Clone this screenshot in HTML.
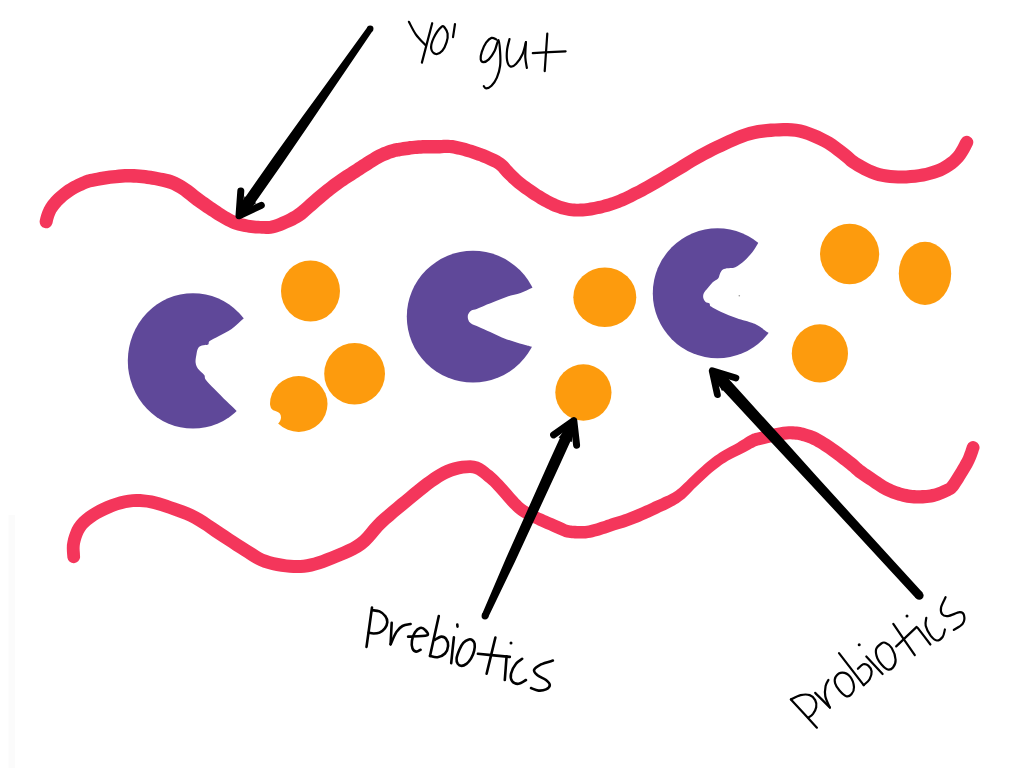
<!DOCTYPE html>
<html><head><meta charset="utf-8"><title>Gut diagram</title>
<style>
html,body{margin:0;padding:0;background:#fff;}
body{width:1024px;height:768px;overflow:hidden;font-family:"Liberation Sans",sans-serif;}
svg{display:block;filter:blur(0.55px);}
</style></head><body>
<svg width="1024" height="768" viewBox="0 0 1024 768">
<rect x="-5" y="-5" width="1034" height="778" fill="#fff"/>
<rect x="8.5" y="515" width="6.5" height="260" fill="#fbfbfb"/>
<path d="M52.3 223.8 L52.5 223.1 L52.7 222.2 L52.9 221.2 L53.2 220.1 L53.5 219.1 L53.8 218.1 L54.1 217.1 L54.5 216.0 L54.9 215.0 L55.3 214.1 L55.7 213.2 L56.1 212.3 L56.7 211.4 L57.4 210.5 L58.1 209.5 L58.9 208.4 L59.7 207.4 L60.6 206.4 L61.6 205.3 L62.7 204.3 L63.7 203.2 L64.9 202.2 L66.1 201.1 L67.3 200.1 L68.6 199.0 L70.0 198.0 L71.4 197.0 L72.8 196.0 L74.3 195.0 L75.9 194.1 L77.6 193.1 L79.6 192.1 L81.6 191.1 L83.6 190.2 L85.5 189.3 L87.2 188.6 L88.6 188.1 L89.4 187.7 L90.1 187.5 L90.9 187.3 L92.1 187.0 L93.8 186.7 L96.1 186.2 L98.8 185.7 L101.8 185.2 L104.8 184.7 L107.9 184.2 L110.8 183.8 L113.7 183.5 L116.7 183.2 L119.6 182.9 L122.5 182.7 L125.3 182.6 L128.1 182.5 L130.8 182.6 L133.5 182.7 L136.3 182.8 L139.0 183.0 L141.6 183.3 L144.2 183.6 L146.7 183.9 L149.2 184.3 L151.6 184.7 L154.0 185.1 L156.3 185.6 L158.6 186.1 L160.9 186.6 L162.9 187.0 L164.8 187.4 L166.6 187.9 L168.2 188.4 L169.9 189.0 L171.7 189.8 L173.5 190.7 L175.3 191.7 L177.2 192.8 L179.2 194.1 L181.1 195.3 L182.9 196.7 L184.8 198.2 L186.8 199.8 L188.9 201.5 L191.1 203.3 L193.3 205.0 L195.5 206.6 L197.6 208.1 L199.8 209.6 L201.9 211.0 L204.0 212.4 L206.1 213.8 L208.2 215.2 L210.4 216.6 L212.5 218.0 L214.7 219.4 L216.9 220.7 L219.1 222.0 L221.2 223.3 L223.4 224.5 L225.6 225.7 L227.9 226.8 L230.2 227.9 L232.6 228.9 L235.0 229.7 L237.4 230.4 L239.7 231.0 L241.9 231.5 L244.2 232.0 L246.4 232.3 L248.6 232.7 L250.9 233.0 L253.1 233.2 L255.4 233.4 L257.6 233.5 L259.7 233.5 L261.7 233.7 L263.8 233.8 L266.0 233.9 L268.5 233.9 L271.1 233.7 L273.9 233.2 L276.8 232.4 L279.8 231.5 L282.8 230.4 L285.6 229.2 L288.3 228.1 L290.8 227.0 L293.1 226.0 L295.3 224.9 L297.3 223.8 L299.2 222.7 L300.9 221.7 L302.5 220.7 L303.9 219.8 L305.1 218.9 L306.1 218.0 L307.1 217.2 L308.1 216.3 L309.5 215.1 L311.2 213.6 L313.2 211.8 L315.4 209.9 L317.6 207.9 L319.8 206.0 L321.9 204.2 L324.0 202.4 L326.0 200.7 L328.1 199.0 L330.1 197.3 L332.1 195.7 L334.2 194.1 L336.2 192.6 L338.2 191.0 L340.3 189.5 L342.3 188.1 L344.3 186.6 L346.4 185.2 L348.4 183.8 L350.4 182.5 L352.4 181.2 L354.5 179.9 L356.6 178.6 L358.7 177.2 L360.8 175.8 L362.9 174.5 L365.0 173.1 L367.0 171.8 L369.1 170.4 L371.1 169.2 L373.2 167.8 L375.3 166.5 L377.3 165.2 L379.3 164.0 L381.2 163.0 L383.0 162.0 L385.0 161.1 L387.0 160.2 L389.0 159.4 L391.0 158.6 L392.9 157.9 L394.6 157.4 L395.8 157.0 L396.7 156.8 L397.4 156.7 L398.3 156.5 L399.5 156.4 L401.1 156.1 L402.9 155.8 L404.8 155.5 L406.9 155.2 L409.1 154.9 L411.2 154.6 L413.2 154.3 L415.2 154.1 L417.2 153.9 L419.2 153.8 L421.2 153.7 L423.2 153.6 L425.2 153.5 L427.2 153.4 L429.2 153.4 L431.2 153.4 L433.3 153.4 L435.4 153.4 L437.6 153.4 L439.8 153.4 L442.0 153.3 L444.1 153.1 L446.0 153.1 L447.8 153.0 L449.5 153.1 L451.2 153.3 L453.0 153.6 L454.9 153.9 L456.9 154.4 L458.9 154.8 L460.9 155.3 L462.8 155.8 L464.8 156.4 L466.8 157.0 L468.8 157.6 L470.8 158.3 L472.9 159.0 L474.9 159.7 L476.9 160.4 L479.0 161.1 L480.9 161.9 L482.9 162.7 L484.9 163.5 L486.9 164.4 L489.0 165.4 L491.1 166.4 L493.0 167.3 L494.7 168.3 L496.1 169.3 L497.3 170.2 L498.4 171.3 L499.6 172.7 L500.9 174.2 L502.4 175.9 L504.1 177.7 L505.7 179.3 L507.3 180.8 L508.9 182.4 L510.7 184.1 L512.6 185.8 L514.6 187.5 L516.9 189.3 L519.2 191.1 L521.7 192.9 L524.1 194.6 L526.6 196.3 L528.9 197.9 L531.1 199.4 L533.3 200.8 L535.4 202.1 L537.5 203.4 L539.7 204.7 L541.9 205.9 L544.0 207.1 L546.2 208.2 L548.4 209.3 L550.6 210.4 L552.9 211.4 L555.2 212.3 L557.5 213.1 L559.8 213.9 L562.1 214.5 L564.4 215.1 L566.7 215.6 L569.1 216.0 L571.4 216.3 L573.8 216.5 L576.1 216.6 L578.4 216.6 L580.6 216.5 L582.9 216.4 L585.2 216.3 L587.4 216.0 L589.7 215.7 L591.9 215.4 L594.1 215.0 L596.2 214.6 L598.4 214.1 L600.6 213.7 L602.7 213.2 L604.9 212.6 L607.1 212.0 L609.3 211.4 L611.5 210.8 L613.7 210.1 L615.9 209.3 L618.0 208.5 L620.2 207.7 L622.4 206.8 L624.6 205.9 L626.7 205.0 L628.8 204.0 L630.9 202.9 L633.1 201.9 L635.4 200.7 L637.6 199.6 L639.9 198.5 L642.3 197.3 L644.9 195.9 L647.8 194.3 L651.1 192.5 L655.1 190.2 L659.5 187.7 L664.2 184.9 L669.0 182.1 L673.8 179.2 L678.3 176.5 L682.6 173.9 L686.9 171.4 L691.0 168.8 L695.1 166.3 L699.1 164.0 L703.2 161.7 L707.2 159.5 L711.3 157.4 L715.4 155.3 L719.5 153.3 L723.6 151.4 L727.7 149.5 L731.9 147.6 L736.0 145.8 L740.0 144.0 L744.0 142.4 L747.9 141.0 L751.7 139.9 L755.6 139.0 L759.5 138.2 L763.4 137.7 L767.3 137.2 L771.3 136.9 L775.4 136.6 L779.4 136.4 L783.4 136.3 L787.4 136.3 L791.2 136.4 L794.9 136.8 L798.6 137.5 L802.3 138.5 L806.3 139.8 L810.4 141.4 L814.4 143.2 L818.3 145.0 L821.9 146.8 L825.0 148.6 L828.0 150.5 L830.9 152.6 L833.7 154.7 L836.4 156.8 L839.0 158.7 L841.1 160.4 L843.0 162.0 L844.8 163.6 L846.8 165.4 L849.2 167.2 L852.0 169.1 L855.0 170.9 L858.3 172.8 L861.8 174.7 L865.6 176.6 L869.5 178.3 L873.5 179.7 L877.4 180.9 L881.4 181.8 L885.5 182.5 L889.5 183.0 L893.6 183.3 L897.8 183.5 L902.2 183.6 L906.6 183.4 L911.2 183.1 L915.7 182.7 L920.1 182.1 L924.2 181.4 L928.1 180.6 L931.9 179.6 L935.6 178.6 L939.2 177.3 L942.7 175.9 L946.0 174.3 L949.2 172.5 L952.3 170.5 L955.2 168.4 L957.9 166.2 L960.5 163.8 L962.9 161.3 L965.2 158.3 L967.3 155.1 L969.1 151.9 L970.7 149.0 L971.8 146.7 L972.7 145.1 A6.50 6.50 0 0 0 961.3 138.9 L960.3 140.6 L959.1 143.0 L957.7 145.7 L956.2 148.3 L954.7 150.8 L953.1 152.7 L951.4 154.5 L949.4 156.4 L947.2 158.1 L944.9 159.8 L942.5 161.3 L940.0 162.7 L937.4 164.0 L934.6 165.1 L931.6 166.1 L928.5 167.1 L925.2 167.9 L921.8 168.6 L918.1 169.2 L914.2 169.7 L910.1 170.1 L906.0 170.4 L902.0 170.5 L898.2 170.5 L894.5 170.3 L890.9 170.0 L887.4 169.5 L884.0 168.9 L880.7 168.2 L877.5 167.3 L874.4 166.1 L871.2 164.7 L867.9 163.1 L864.7 161.3 L861.7 159.6 L859.0 157.9 L856.9 156.5 L855.1 155.2 L853.5 153.7 L851.6 152.1 L849.5 150.2 L847.0 148.3 L844.4 146.3 L841.7 144.2 L838.7 141.9 L835.4 139.6 L831.9 137.3 L828.1 135.2 L824.2 133.2 L819.9 131.1 L815.5 129.2 L810.9 127.4 L806.1 125.8 L801.4 124.5 L796.8 123.7 L792.1 123.2 L787.6 123.0 L783.2 123.0 L778.9 123.2 L774.6 123.4 L770.4 123.6 L766.0 124.0 L761.6 124.5 L757.2 125.1 L752.8 126.0 L748.3 127.1 L743.8 128.5 L739.3 130.1 L735.0 131.8 L730.7 133.7 L726.5 135.6 L722.3 137.5 L718.1 139.5 L713.8 141.5 L709.6 143.6 L705.3 145.8 L701.1 148.0 L696.8 150.3 L692.6 152.7 L688.4 155.2 L684.2 157.8 L680.1 160.3 L675.9 162.9 L671.7 165.5 L667.2 168.1 L662.4 171.0 L657.6 173.9 L653.0 176.6 L648.7 179.1 L644.9 181.3 L641.6 183.1 L638.9 184.6 L636.4 185.9 L634.1 187.0 L631.9 188.1 L629.6 189.3 L627.4 190.4 L625.3 191.4 L623.3 192.4 L621.4 193.3 L619.5 194.1 L617.6 195.0 L615.6 195.7 L613.6 196.5 L611.6 197.2 L609.7 197.8 L607.7 198.5 L605.7 199.1 L603.7 199.6 L601.7 200.2 L599.8 200.7 L597.8 201.1 L595.8 201.5 L593.8 201.9 L591.8 202.3 L589.8 202.6 L587.8 203.0 L585.9 203.2 L584.0 203.4 L582.1 203.6 L580.2 203.6 L578.3 203.7 L576.4 203.7 L574.6 203.6 L572.7 203.4 L570.9 203.2 L569.1 202.9 L567.3 202.5 L565.4 202.0 L563.6 201.5 L561.7 200.9 L559.8 200.2 L557.9 199.5 L556.0 198.6 L554.1 197.7 L552.1 196.7 L550.1 195.7 L548.1 194.6 L546.2 193.5 L544.2 192.3 L542.3 191.1 L540.3 189.9 L538.2 188.5 L536.1 187.1 L533.9 185.6 L531.6 184.0 L529.3 182.3 L527.0 180.7 L524.8 179.0 L522.9 177.5 L521.1 176.0 L519.5 174.5 L518.0 173.1 L516.4 171.6 L514.9 170.0 L513.4 168.5 L512.1 167.1 L510.8 165.7 L509.4 164.1 L507.9 162.3 L506.0 160.5 L503.9 158.7 L501.6 157.2 L499.3 155.8 L496.9 154.6 L494.6 153.5 L492.3 152.5 L490.1 151.5 L488.0 150.5 L485.7 149.6 L483.5 148.8 L481.4 148.0 L479.3 147.2 L477.1 146.5 L475.0 145.8 L472.9 145.1 L470.7 144.4 L468.5 143.7 L466.3 143.1 L464.1 142.5 L462.0 141.9 L459.8 141.4 L457.6 140.9 L455.3 140.5 L453.0 140.1 L450.5 139.9 L448.1 139.7 L445.7 139.7 L443.4 139.8 L441.3 139.9 L439.3 140.0 L437.4 140.1 L435.4 140.1 L433.4 140.0 L431.3 140.0 L429.2 140.0 L427.0 140.0 L424.8 140.0 L422.6 140.1 L420.5 140.2 L418.3 140.3 L416.1 140.5 L414.0 140.7 L411.8 140.9 L409.5 141.1 L407.2 141.4 L404.9 141.8 L402.7 142.1 L400.7 142.4 L398.9 142.7 L397.5 142.9 L396.4 143.1 L395.1 143.2 L393.7 143.5 L392.2 143.9 L390.4 144.4 L388.5 145.1 L386.4 145.8 L384.1 146.7 L381.7 147.6 L379.3 148.7 L377.0 149.8 L374.6 151.0 L372.4 152.3 L370.2 153.7 L368.0 155.0 L365.9 156.3 L363.9 157.6 L361.8 159.0 L359.6 160.3 L357.5 161.7 L355.4 163.1 L353.4 164.5 L351.3 165.8 L349.3 167.1 L347.2 168.4 L345.1 169.8 L343.0 171.1 L340.8 172.5 L338.6 174.0 L336.5 175.5 L334.4 177.0 L332.2 178.6 L330.1 180.1 L328.0 181.7 L325.8 183.4 L323.7 185.1 L321.6 186.8 L319.4 188.5 L317.3 190.3 L315.2 192.0 L313.1 193.8 L310.9 195.7 L308.6 197.7 L306.3 199.7 L304.2 201.7 L302.2 203.4 L300.5 204.9 L299.2 206.0 L298.1 207.0 L297.4 207.6 L296.8 208.1 L296.1 208.6 L295.0 209.3 L293.7 210.2 L292.2 211.2 L290.6 212.1 L288.9 213.1 L287.2 214.0 L285.2 215.0 L283.0 216.0 L280.5 217.1 L277.9 218.2 L275.4 219.2 L273.1 220.0 L271.1 220.6 L269.4 220.9 L267.8 221.1 L266.1 221.1 L264.3 221.1 L262.4 221.0 L260.3 221.0 L258.3 220.8 L256.3 220.7 L254.4 220.5 L252.4 220.3 L250.5 220.0 L248.6 219.7 L246.7 219.3 L244.7 218.8 L242.8 218.4 L241.0 217.9 L239.2 217.3 L237.4 216.6 L235.6 215.8 L233.8 214.9 L231.9 213.9 L229.9 212.8 L227.9 211.7 L225.9 210.5 L224.0 209.2 L222.0 208.0 L220.0 206.6 L218.0 205.2 L215.9 203.8 L213.9 202.4 L211.8 201.0 L209.7 199.6 L207.7 198.1 L205.7 196.7 L203.7 195.2 L201.7 193.8 L199.7 192.3 L197.7 190.7 L195.7 189.0 L193.5 187.2 L191.2 185.5 L188.9 183.9 L186.7 182.4 L184.4 181.0 L182.2 179.7 L179.9 178.4 L177.5 177.3 L175.1 176.2 L172.6 175.3 L170.3 174.6 L168.0 174.0 L165.8 173.5 L163.6 173.1 L161.4 172.7 L159.0 172.2 L156.6 171.7 L154.0 171.2 L151.3 170.8 L148.6 170.4 L145.8 170.0 L143.0 169.7 L140.1 169.5 L137.1 169.3 L134.1 169.1 L131.0 169.1 L127.9 169.1 L124.8 169.1 L121.6 169.3 L118.5 169.6 L115.3 169.9 L112.2 170.2 L109.2 170.6 L106.0 171.0 L102.7 171.6 L99.5 172.1 L96.4 172.7 L93.6 173.2 L91.2 173.7 L89.3 174.1 L87.8 174.5 L86.4 174.8 L85.1 175.3 L83.7 175.8 L82.2 176.4 L80.3 177.2 L78.1 178.2 L75.9 179.3 L73.6 180.4 L71.4 181.6 L69.3 182.7 L67.4 183.9 L65.5 185.1 L63.8 186.3 L62.2 187.5 L60.6 188.7 L59.1 189.9 L57.6 191.2 L56.1 192.4 L54.7 193.7 L53.4 195.0 L52.2 196.3 L51.0 197.6 L49.8 199.0 L48.7 200.3 L47.7 201.6 L46.7 203.0 L45.7 204.4 L44.9 205.9 L44.0 207.4 L43.4 208.9 L42.8 210.3 L42.3 211.6 L41.8 212.9 L41.4 214.1 L41.0 215.4 L40.6 216.8 L40.3 218.1 L40.0 219.3 L39.8 220.2 L39.7 220.8 A6.50 6.50 0 0 0 52.3 223.8 Z" fill="#f4365b"/>
<path d="M80.1 557.2 L80.0 555.4 L79.9 553.2 L79.7 550.8 L79.6 548.3 L79.7 545.9 L80.0 543.7 L80.6 541.3 L81.4 538.6 L82.3 536.0 L83.4 533.5 L84.7 531.2 L86.2 529.1 L88.1 527.0 L90.6 524.8 L93.3 522.7 L96.4 520.6 L99.6 518.6 L103.0 516.7 L106.6 514.9 L110.5 513.2 L114.5 511.6 L118.6 510.1 L122.6 508.9 L126.3 508.1 L129.8 507.5 L133.2 507.1 L136.5 507.0 L139.8 507.0 L143.2 507.3 L146.6 507.6 L150.0 508.2 L153.3 509.0 L156.8 509.9 L160.3 511.0 L164.0 512.3 L167.9 513.6 L171.9 515.0 L176.0 516.4 L180.0 517.9 L184.1 519.5 L188.1 521.3 L192.0 523.2 L195.8 525.4 L199.8 527.9 L203.9 530.6 L208.0 533.5 L212.2 536.4 L216.4 539.2 L220.6 542.0 L224.9 544.8 L229.2 547.6 L233.5 550.4 L237.6 553.1 L241.5 555.5 L245.1 557.7 L248.4 559.9 L251.6 561.9 L255.1 563.9 L258.7 565.7 L262.8 567.4 L267.1 568.8 L271.6 570.0 L276.2 570.9 L280.8 571.7 L285.2 572.3 L289.5 572.8 L293.4 573.0 L297.2 573.1 L300.9 573.0 L304.6 572.7 L308.4 572.2 L312.4 571.4 L316.7 570.3 L321.1 569.0 L325.5 567.5 L329.9 565.8 L334.3 564.1 L338.5 562.3 L342.8 560.5 L347.1 558.7 L351.6 556.7 L356.1 554.5 L360.6 552.0 L365.0 549.0 L369.1 545.5 L372.7 541.7 L376.0 537.9 L379.1 534.2 L382.3 530.6 L385.6 527.2 L389.3 523.8 L393.3 520.4 L397.4 516.8 L401.7 513.3 L406.0 509.8 L410.2 506.3 L414.4 502.8 L418.7 499.2 L423.0 495.7 L427.1 492.4 L431.1 489.3 L434.8 486.6 L438.3 484.2 L441.5 482.1 L444.5 480.3 L447.3 478.7 L450.1 477.4 L453.1 476.2 L456.4 475.2 L459.9 474.3 L463.5 473.6 L466.9 473.2 L470.0 473.1 L472.4 473.3 L474.3 473.7 L476.2 474.6 L478.1 475.8 L480.2 477.3 L482.4 479.1 L484.6 480.9 L486.6 482.4 L488.3 484.0 L490.1 485.6 L491.8 487.3 L493.6 489.2 L495.5 491.3 L497.5 493.4 L499.5 495.8 L501.7 498.2 L503.8 500.8 L506.0 503.2 L508.0 505.5 L509.9 507.4 L511.5 509.1 L513.2 510.8 L515.1 512.6 L517.3 514.3 L519.7 516.1 L522.6 517.8 L525.8 519.5 L529.0 521.1 L532.3 522.7 L535.3 524.1 L538.0 525.4 L540.4 526.5 L542.6 527.5 L544.7 528.4 L546.6 529.3 L548.6 530.1 L550.6 531.0 L552.7 531.9 L555.0 533.0 L557.3 534.0 L559.7 535.1 L562.1 536.1 L564.3 536.9 L566.4 537.4 L568.3 537.8 L570.0 538.1 L571.6 538.2 L573.1 538.3 L574.7 538.4 L576.6 538.4 L578.8 538.5 L581.0 538.5 L583.4 538.5 L585.9 538.4 L588.3 538.1 L590.8 537.7 L593.1 537.2 L595.4 536.6 L597.6 536.0 L599.7 535.4 L601.8 534.8 L603.9 534.1 L606.0 533.4 L608.1 532.7 L610.2 532.0 L612.3 531.3 L614.4 530.6 L616.8 529.8 L619.3 529.0 L622.0 528.2 L624.7 527.4 L627.4 526.5 L630.1 525.5 L632.8 524.5 L635.4 523.5 L638.1 522.4 L640.6 521.4 L643.1 520.3 L645.5 519.3 L647.8 518.2 L650.1 517.2 L652.2 516.2 L654.3 515.2 L656.5 514.2 L658.6 513.2 L660.9 512.1 L663.2 511.1 L665.7 510.0 L668.1 508.8 L670.5 507.6 L672.8 506.3 L674.8 505.2 L676.7 504.1 L678.6 502.9 L680.5 501.6 L682.5 500.1 L684.6 498.4 L686.9 496.3 L689.2 494.0 L691.6 491.6 L693.9 489.1 L696.3 486.8 L698.7 484.4 L701.3 482.1 L704.0 479.6 L706.7 477.1 L709.4 474.6 L712.0 472.3 L714.5 470.3 L716.8 468.4 L719.1 466.7 L721.3 465.1 L723.5 463.6 L725.7 462.2 L727.9 460.8 L730.2 459.4 L732.6 458.2 L735.1 456.9 L737.7 455.7 L740.3 454.5 L742.8 453.2 L745.3 452.0 L747.6 450.7 L749.9 449.4 L751.9 448.3 L753.8 447.4 L755.4 446.6 L756.6 446.1 L757.2 445.9 L757.4 445.8 L758.0 445.6 L759.4 445.3 L761.5 444.8 L764.7 444.1 L768.6 443.1 L773.0 442.1 L777.4 441.1 L781.5 440.3 L784.7 439.7 L787.2 439.4 L789.2 439.3 L790.8 439.3 L792.4 439.4 L794.0 439.5 L795.6 439.7 L797.1 439.8 L798.2 440.0 L799.3 440.2 L800.4 440.5 L801.6 440.9 L803.1 441.3 L804.6 441.8 L806.1 442.3 L807.5 442.8 L809.0 443.3 L810.5 443.9 L812.0 444.7 L813.8 445.6 L815.7 446.7 L817.7 447.8 L819.7 449.1 L821.8 450.5 L823.8 451.8 L825.8 453.1 L827.8 454.5 L829.8 456.0 L831.9 457.5 L833.9 459.0 L836.0 460.6 L838.1 462.2 L840.3 463.9 L842.4 465.6 L844.6 467.2 L846.5 468.8 L848.2 470.2 L849.6 471.3 L850.7 472.3 L851.7 473.2 L852.9 474.3 L854.3 475.5 L856.0 476.9 L857.9 478.3 L860.0 479.7 L862.2 481.2 L864.4 482.7 L866.7 484.2 L868.8 485.6 L870.8 486.9 L872.9 488.4 L875.0 489.8 L877.2 491.3 L879.5 492.7 L881.8 494.0 L884.1 495.2 L886.4 496.3 L888.7 497.2 L890.9 498.2 L893.2 499.0 L895.4 499.8 L897.6 500.5 L899.9 501.1 L902.2 501.7 L904.5 502.2 L906.8 502.7 L909.1 503.0 L911.5 503.3 L913.8 503.5 L916.1 503.6 L918.4 503.6 L920.6 503.5 L922.9 503.4 L925.1 503.2 L927.3 503.0 L929.6 502.8 L931.9 502.4 L934.3 501.9 L936.7 501.3 L939.2 500.5 L941.7 499.6 L944.2 498.6 L946.5 497.6 L948.6 496.6 L950.3 495.7 L951.5 495.1 L952.6 494.6 L953.9 493.8 L955.2 492.7 L956.3 491.5 L957.5 490.2 L958.8 488.4 L960.2 486.3 L961.7 484.0 L963.2 481.7 L964.6 479.3 L966.0 477.0 L967.4 474.7 L968.9 472.3 L970.4 469.7 L971.9 467.2 L973.3 464.6 L974.5 462.1 L975.6 459.6 L976.6 457.0 L977.5 454.6 L978.2 452.5 L978.7 450.8 L979.2 449.6 A6.40 6.40 0 0 0 967.0 445.4 L966.6 446.8 L966.0 448.5 L965.4 450.5 L964.6 452.6 L963.8 454.7 L963.0 456.7 L962.0 458.7 L960.7 461.0 L959.4 463.4 L958.0 465.8 L956.6 468.2 L955.2 470.5 L953.8 472.8 L952.4 475.1 L951.0 477.3 L949.7 479.3 L948.5 481.0 L947.5 482.3 L946.8 483.2 L946.5 483.5 L946.7 483.4 L946.7 483.3 L946.0 483.7 L944.7 484.3 L943.1 485.0 L941.3 485.8 L939.3 486.7 L937.2 487.5 L935.1 488.2 L933.3 488.7 L931.5 489.1 L929.7 489.4 L927.9 489.7 L926.0 489.9 L924.1 490.0 L922.1 490.1 L920.2 490.2 L918.3 490.2 L916.4 490.2 L914.5 490.1 L912.7 490.0 L910.9 489.8 L909.1 489.5 L907.2 489.1 L905.3 488.7 L903.4 488.2 L901.5 487.7 L899.6 487.0 L897.7 486.4 L895.8 485.7 L893.8 484.9 L891.9 484.1 L890.1 483.2 L888.2 482.2 L886.3 481.2 L884.4 480.0 L882.5 478.7 L880.4 477.3 L878.4 475.9 L876.2 474.4 L874.1 473.0 L871.9 471.5 L869.7 470.1 L867.6 468.7 L865.7 467.3 L864.0 466.1 L862.8 465.2 L861.8 464.3 L860.8 463.4 L859.7 462.4 L858.4 461.2 L856.8 459.8 L854.9 458.3 L852.9 456.7 L850.7 455.0 L848.4 453.3 L846.2 451.6 L844.0 449.9 L841.9 448.3 L839.8 446.8 L837.7 445.2 L835.5 443.7 L833.4 442.2 L831.2 440.7 L829.0 439.3 L826.8 437.9 L824.5 436.5 L822.3 435.2 L820.1 433.9 L818.0 432.8 L815.9 431.8 L813.9 431.0 L812.0 430.3 L810.2 429.7 L808.5 429.2 L806.9 428.7 L805.4 428.2 L803.9 427.8 L802.3 427.4 L800.6 427.0 L798.8 426.7 L796.9 426.5 L795.1 426.4 L793.2 426.2 L791.0 426.2 L788.6 426.2 L785.9 426.4 L782.8 426.8 L779.0 427.4 L774.7 428.3 L770.1 429.4 L765.6 430.4 L761.6 431.4 L758.5 432.2 L756.4 432.7 L754.9 433.0 L753.7 433.4 L752.4 433.8 L751.1 434.4 L749.6 435.2 L747.7 436.3 L745.7 437.5 L743.6 438.9 L741.4 440.3 L739.3 441.6 L737.2 443.0 L735.0 444.2 L732.6 445.5 L730.1 446.8 L727.4 448.2 L724.7 449.7 L722.1 451.2 L719.6 452.8 L717.2 454.4 L714.8 456.1 L712.5 457.8 L710.0 459.7 L707.5 461.7 L704.8 464.0 L702.1 466.5 L699.3 469.0 L696.5 471.6 L693.9 474.1 L691.3 476.6 L688.7 479.0 L686.3 481.5 L683.8 483.8 L681.5 486.0 L679.4 488.0 L677.4 489.6 L675.6 490.9 L674.0 492.0 L672.4 492.9 L670.9 493.8 L669.1 494.7 L667.2 495.7 L665.1 496.6 L662.9 497.6 L660.6 498.7 L658.2 499.7 L655.8 500.8 L653.4 501.8 L651.1 502.9 L649.0 503.9 L646.9 504.9 L644.8 505.8 L642.7 506.8 L640.5 507.7 L638.1 508.7 L635.7 509.8 L633.3 510.8 L630.8 511.8 L628.3 512.8 L625.9 513.7 L623.4 514.6 L620.8 515.4 L618.2 516.2 L615.6 517.0 L613.0 517.8 L610.6 518.6 L608.2 519.4 L606.1 520.1 L604.0 520.9 L602.1 521.5 L600.2 522.1 L598.2 522.7 L596.1 523.4 L594.1 524.0 L592.1 524.5 L590.2 525.0 L588.4 525.4 L586.7 525.7 L584.9 525.9 L583.0 526.0 L581.0 526.0 L579.0 526.0 L577.1 525.9 L575.3 525.8 L573.6 525.8 L572.4 525.7 L571.3 525.6 L570.5 525.5 L569.4 525.3 L568.2 524.9 L566.5 524.4 L564.6 523.6 L562.5 522.6 L560.2 521.6 L557.9 520.6 L555.6 519.5 L553.5 518.6 L551.5 517.8 L549.6 517.0 L547.6 516.1 L545.6 515.2 L543.2 514.1 L540.5 512.9 L537.5 511.5 L534.4 510.0 L531.4 508.5 L528.7 507.1 L526.5 505.7 L524.7 504.5 L523.1 503.2 L521.7 502.0 L520.3 500.5 L518.7 498.9 L517.0 497.0 L515.1 495.0 L513.1 492.7 L511.0 490.3 L508.8 487.8 L506.6 485.3 L504.5 482.9 L502.5 480.8 L500.7 478.9 L498.8 476.9 L496.8 474.9 L494.6 473.0 L492.4 471.1 L490.2 469.4 L487.9 467.5 L485.3 465.5 L482.2 463.5 L478.6 461.8 L474.6 460.7 L470.3 460.3 L466.0 460.4 L461.6 460.8 L457.3 461.6 L453.0 462.6 L448.9 463.8 L445.0 465.2 L441.3 466.9 L437.8 468.9 L434.4 471.0 L430.9 473.3 L427.2 475.9 L423.2 478.8 L419.0 482.1 L414.7 485.5 L410.3 489.1 L406.0 492.7 L401.8 496.2 L397.6 499.6 L393.3 503.2 L389.0 506.8 L384.7 510.4 L380.5 514.0 L376.4 517.8 L372.6 521.7 L369.2 525.6 L366.0 529.4 L363.0 532.9 L360.1 535.9 L357.0 538.5 L353.7 540.8 L350.0 542.9 L346.0 544.8 L341.9 546.7 L337.7 548.4 L333.5 550.2 L329.3 551.9 L325.1 553.6 L321.0 555.2 L317.0 556.5 L313.2 557.7 L309.6 558.6 L306.2 559.3 L303.1 559.7 L300.1 560.0 L297.1 560.0 L294.0 560.0 L290.5 559.7 L286.8 559.4 L282.8 558.8 L278.7 558.1 L274.6 557.3 L270.7 556.2 L267.2 555.1 L264.1 553.9 L261.2 552.4 L258.4 550.7 L255.4 548.8 L252.1 546.7 L248.5 544.5 L244.6 542.1 L240.6 539.5 L236.4 536.7 L232.1 533.9 L227.8 531.1 L223.6 528.3 L219.5 525.6 L215.4 522.7 L211.1 519.9 L206.9 517.0 L202.5 514.3 L198.0 511.8 L193.6 509.5 L189.1 507.6 L184.7 505.8 L180.3 504.2 L176.1 502.8 L172.1 501.4 L168.2 500.0 L164.3 498.7 L160.4 497.5 L156.5 496.4 L152.5 495.5 L148.4 494.9 L144.3 494.4 L140.4 494.1 L136.3 494.1 L132.2 494.3 L128.0 494.7 L123.7 495.4 L119.2 496.5 L114.6 497.9 L110.0 499.5 L105.5 501.3 L101.1 503.3 L97.0 505.3 L93.1 507.5 L89.4 509.8 L85.7 512.3 L82.3 515.0 L79.2 517.8 L76.3 520.9 L73.9 524.3 L71.9 527.8 L70.4 531.4 L69.2 534.8 L68.2 538.1 L67.5 541.3 L66.9 544.7 L66.8 548.2 L66.9 551.4 L67.1 554.2 L67.3 556.4 L67.4 557.8 A6.40 6.40 0 0 0 80.1 557.2 Z" fill="#f4365b"/>
<ellipse cx="310.5" cy="291.0" rx="29.5" ry="30.6" fill="#fd9b0d"/>
<ellipse cx="354.6" cy="373.8" rx="30.4" ry="30.8" fill="#fd9b0d"/>
<ellipse cx="604.8" cy="297.2" rx="31.5" ry="29.8" fill="#fd9b0d"/>
<ellipse cx="583.4" cy="392.5" rx="28.1" ry="28.2" fill="#fd9b0d"/>
<ellipse cx="849.6" cy="254.0" rx="29.6" ry="30.2" fill="#fd9b0d"/>
<ellipse cx="925.0" cy="273.4" rx="26.2" ry="31.6" fill="#fd9b0d"/>
<ellipse cx="819.9" cy="353.4" rx="28.1" ry="29.1" fill="#fd9b0d"/>
<ellipse cx="298.75" cy="404" rx="28.75" ry="28" fill="#fd9b0d"/>
<path d="M264 404 L270.2 405.5 C270.5 409 273 410.3 276 411.2 C279.5 412.2 281 414 281 417.5 C281 420 279.5 422 278 423.8 L272 431 L262 420 Z" fill="#fff"/>
<ellipse cx="193.0" cy="360.9" rx="65.2" ry="67.7" fill="#5f4899"/>
<path d="M244.9 418.8 C243.4 417.4 238.9 413.1 235.9 410.2 C232.9 407.3 230.5 405.1 226.9 401.6 C223.3 398.1 217.9 392.6 214.4 389.0 C210.9 385.4 207.5 382.0 205.8 379.7 C204.1 377.4 205.5 376.8 204.2 375.0 C202.9 373.2 199.4 370.8 198.0 368.8 C196.6 366.7 195.9 364.8 195.6 362.5 C195.3 360.2 196.0 357.1 196.4 354.7 C196.8 352.3 197.1 349.9 198.0 348.4 C198.9 346.9 200.2 346.2 201.9 345.6 C203.6 345.0 206.8 345.3 208.1 344.5 C209.4 343.7 207.9 342.3 209.7 340.9 C211.5 339.5 215.3 337.9 219.0 335.9 C222.7 333.9 227.5 331.8 231.6 328.9 C235.7 326.0 240.2 321.4 243.3 318.8 C246.4 316.1 249.1 313.7 250.3 312.7 L262.0 302.5 L267.0 365.0 L253.9 427.4 Z" fill="#fff"/>
<ellipse cx="473.0" cy="316.7" rx="66.2" ry="65.9" fill="#5f4899"/>
<path d="M544.8 350.4 C542.6 349.8 535.0 347.6 531.8 346.7 C528.5 345.8 528.3 345.9 525.3 345.0 C522.3 344.1 517.5 342.8 513.6 341.5 C509.7 340.2 505.8 339.0 501.9 337.4 C498.0 335.8 494.1 333.9 490.2 332.1 C486.3 330.3 481.6 328.3 478.4 326.8 C475.2 325.3 472.5 324.6 470.8 323.3 C469.1 322.0 468.6 320.7 468.1 319.2 C467.7 317.7 467.6 316.0 468.1 314.5 C468.7 313.0 470.0 311.3 471.4 310.4 C472.8 309.5 474.5 309.7 476.7 308.9 C478.9 308.1 481.1 307.0 484.3 305.7 C487.5 304.4 492.1 302.7 496.0 301.1 C499.9 299.6 503.6 297.8 507.7 296.4 C511.8 295.0 516.5 294.3 520.6 292.9 C524.7 291.5 528.5 289.5 532.3 287.8 C536.1 286.1 541.7 283.6 543.6 282.7 L549.0 280.3 L552.0 317.0 L548.0 351.2 Z" fill="#fff"/>
<ellipse cx="717.5" cy="293.2" rx="64.7" ry="65.0" fill="#5f4899"/>
<path d="M779.0 340.0 C777.3 338.9 772.3 335.4 768.9 333.1 C765.5 330.8 761.5 327.8 758.8 326.1 C756.0 324.4 756.1 324.3 752.5 323.0 C748.9 321.7 742.1 320.1 736.9 318.3 C731.7 316.5 725.5 313.9 721.2 312.0 C717.0 310.1 713.1 308.0 711.1 306.6 C709.1 305.2 710.4 304.2 709.5 303.4 C708.6 302.6 706.6 302.8 705.6 301.9 C704.6 301.0 703.6 299.4 703.3 298.0 C703.0 296.6 703.0 295.0 703.8 293.3 C704.5 291.6 706.5 289.6 708.0 287.8 C709.5 286.0 711.0 283.9 712.7 282.3 C714.4 280.7 716.9 279.7 718.1 278.4 C719.3 277.1 719.1 275.9 719.7 274.5 C720.4 273.1 720.8 271.3 722.0 270.3 C723.2 269.3 724.5 268.8 726.7 268.3 C728.9 267.8 732.3 268.5 735.3 267.2 C738.3 265.9 741.8 263.1 744.7 260.5 C747.6 257.9 750.2 254.8 752.5 251.9 C754.8 249.0 756.4 245.8 758.2 242.9 C760.0 240.0 762.6 236.1 763.5 234.7 L769.0 226.0 L789.0 290.0 L789.0 347.0 Z" fill="#fff"/>
<circle cx="739.3" cy="295.8" r="0.8" fill="#999"/>
<path d="M367.5 26.9 L320.6 91.7 L301.8 117.6 L273.8 156.6 L250.8 189.3 L239.6 205.2 L239.0 215.8 L248.8 211.6 L259.9 195.7 L282.8 162.9 L310.0 123.3 L327.9 96.8 L372.9 30.6 Z" fill="#000"/><circle cx="370.2" cy="28.8" r="3.25" fill="#000"/><path d="M239.0 215.8 L244.6 196.2 L256.3 202.9 Z" fill="#000"/><path d="M240.8 190.9 L239.0 215.8 L261.3 205.3" fill="none" stroke="#000" stroke-width="7.0" stroke-linecap="round" stroke-linejoin="round"/>
<path d="M488.1 617.4 L514.6 562.4 L558.3 468.1 L570.7 440.7 L575.1 431.1 L573.8 420.6 L565.1 426.5 L560.7 436.2 L548.3 463.5 L505.9 558.5 L481.9 614.6 Z" fill="#000"/><circle cx="485.0" cy="616.0" r="3.45" fill="#000"/><path d="M573.8 420.6 L558.5 437.5 L571.8 442.0 Z" fill="#000"/><path d="M553.6 434.9 L573.8 420.6 L576.6 445.2" fill="none" stroke="#000" stroke-width="7.0" stroke-linecap="round" stroke-linejoin="round"/>
<path d="M922.5 592.6 L853.8 517.2 L816.8 476.4 L780.7 436.3 L743.7 395.6 L731.0 381.5 L723.5 373.3 L712.2 370.7 L714.7 381.4 L722.2 389.6 L735.2 403.4 L772.6 443.8 L809.5 483.2 L846.9 523.5 L916.1 598.4 Z" fill="#000"/><circle cx="919.3" cy="595.5" r="4.30" fill="#000"/><path d="M712.2 370.7 L731.5 382.5 L722.0 391.0 Z" fill="#000"/><path d="M735.9 378.0 L712.2 370.7 L717.4 394.6" fill="none" stroke="#000" stroke-width="6.8" stroke-linecap="round" stroke-linejoin="round"/>
<path d="M408.9 21.8 C410.1 23.9 413.0 30.4 415.8 34.3 C418.5 38.2 423.8 43.3 425.4 45.1" fill="none" stroke="#000" stroke-width="2.2" stroke-linecap="round" stroke-linejoin="round"/>
<path d="M432.2 23.2 C430.5 29.8 423.6 56.0 421.9 62.6" fill="none" stroke="#000" stroke-width="2.2" stroke-linecap="round" stroke-linejoin="round"/>
<path d="M441.5 26.8 C439.6 28.4 435.4 34.2 433.7 37.9 C432.0 41.5 430.8 46.0 431.2 48.7 C431.6 51.4 433.9 53.6 435.8 54.0 C437.7 54.4 440.5 52.8 442.3 50.8 C444.1 48.8 445.7 45.1 446.6 42.2 C447.5 39.3 447.9 35.9 447.6 33.6 C447.4 31.3 446.1 29.4 445.1 28.2 C444.1 27.1 443.4 25.2 441.5 26.8Z" fill="none" stroke="#000" stroke-width="2.2" stroke-linecap="round" stroke-linejoin="round"/>
<path d="M455.0 24.0 C454.7 26.2 453.3 35.0 453.0 37.2" fill="none" stroke="#000" stroke-width="2.2" stroke-linecap="round" stroke-linejoin="round"/>
<path d="M496.3 39.5 C495.5 39.2 493.2 37.4 491.5 37.9 C489.8 38.4 487.7 40.4 486.1 42.7 C484.5 45.0 482.7 49.1 481.8 51.9 C480.9 54.7 480.4 57.7 480.7 59.4 C481.0 61.1 482.0 62.1 483.4 62.1 C484.8 62.1 486.9 61.3 488.8 59.4 C490.7 57.5 493.1 54.0 494.7 50.8 C496.3 47.6 497.6 39.8 498.5 40.0 C499.4 40.2 499.8 47.6 500.1 51.9 C500.4 56.2 500.6 61.5 500.1 65.8 C499.6 70.1 498.3 74.3 496.9 77.6 C495.5 80.9 493.3 83.9 491.5 85.7 C489.7 87.5 487.4 88.3 486.1 88.4 C484.8 88.5 484.1 86.6 483.8 86.2" fill="none" stroke="#000" stroke-width="2.2" stroke-linecap="round" stroke-linejoin="round"/>
<path d="M509.5 39.0 C509.1 40.8 507.5 46.1 507.1 49.7 C506.7 53.3 506.6 57.6 507.1 60.4 C507.6 63.2 508.8 65.9 510.3 66.4 C511.8 67.0 514.2 65.8 516.2 63.7 C518.2 61.6 521.0 57.6 522.6 54.0 C524.2 50.4 525.4 44.2 525.9 42.2" fill="none" stroke="#000" stroke-width="2.2" stroke-linecap="round" stroke-linejoin="round"/>
<path d="M525.9 42.2 C525.8 44.7 525.1 52.9 525.3 57.2 C525.5 61.5 526.6 66.2 526.9 68.0" fill="none" stroke="#000" stroke-width="2.2" stroke-linecap="round" stroke-linejoin="round"/>
<path d="M547.3 33.6 C546.9 39.9 545.1 64.9 544.7 71.2" fill="none" stroke="#000" stroke-width="2.2" stroke-linecap="round" stroke-linejoin="round"/>
<path d="M532.8 53.1 C538.3 52.8 560.1 51.6 565.6 51.3" fill="none" stroke="#000" stroke-width="2.2" stroke-linecap="round" stroke-linejoin="round"/>
<path d="M372.0 607.5 C371.1 614.1 367.4 640.3 366.5 646.9" fill="none" stroke="#000" stroke-width="2.6" stroke-linecap="round" stroke-linejoin="round"/>
<path d="M372.4 610.2 C373.6 610.4 377.3 610.4 379.5 611.4 C381.7 612.4 384.1 614.5 385.4 616.3 C386.7 618.1 387.4 620.0 387.3 622.1 C387.2 624.2 386.0 626.9 384.7 628.6 C383.4 630.4 381.3 631.8 379.5 632.6 C377.7 633.4 375.5 633.5 373.7 633.5 C371.9 633.5 369.6 632.8 368.8 632.6" fill="none" stroke="#000" stroke-width="2.6" stroke-linecap="round" stroke-linejoin="round"/>
<path d="M391.7 622.8 C391.5 626.4 390.8 640.7 390.6 644.3" fill="none" stroke="#000" stroke-width="2.6" stroke-linecap="round" stroke-linejoin="round"/>
<path d="M390.6 644.3 C391.6 642.2 394.5 634.9 396.5 631.9 C398.5 628.9 400.1 627.3 402.5 626.0 C404.9 624.7 409.2 624.4 410.6 624.1" fill="none" stroke="#000" stroke-width="2.6" stroke-linecap="round" stroke-linejoin="round"/>
<path d="M408.1 636.6 C411.2 636.4 424.1 636.5 426.9 635.4 C429.7 634.3 426.1 631.0 425.0 629.8 C423.9 628.5 421.7 627.5 420.0 627.9 C418.3 628.3 416.4 630.1 415.0 632.2 C413.6 634.4 412.3 638.3 411.9 641.0 C411.5 643.7 411.8 646.7 412.5 648.5 C413.2 650.3 414.9 651.4 416.2 651.6 C417.6 651.8 419.9 650.1 420.6 649.8" fill="none" stroke="#000" stroke-width="2.6" stroke-linecap="round" stroke-linejoin="round"/>
<path d="M438.8 616.0 C437.3 622.7 431.5 649.3 430.0 656.0" fill="none" stroke="#000" stroke-width="2.6" stroke-linecap="round" stroke-linejoin="round"/>
<path d="M430.0 656.0 C431.2 656.2 435.0 657.7 437.5 657.2 C440.0 656.8 443.2 655.4 445.0 653.5 C446.8 651.6 447.9 648.4 448.1 646.0 C448.3 643.6 447.4 640.7 446.2 639.1 C445.1 637.5 443.1 636.5 441.2 636.6 C439.4 636.7 436.0 639.2 435.0 639.8" fill="none" stroke="#000" stroke-width="2.6" stroke-linecap="round" stroke-linejoin="round"/>
<path d="M453.9 637.3 C453.4 641.6 451.6 658.8 451.2 663.1" fill="none" stroke="#000" stroke-width="2.6" stroke-linecap="round" stroke-linejoin="round"/>
<path d="M457.3 624.6 C457.3 624.9 457.5 626.3 457.5 626.6" fill="none" stroke="#000" stroke-width="2.6" stroke-linecap="round" stroke-linejoin="round"/>
<path d="M468.8 639.5 C467.2 640.0 464.9 641.1 463.3 642.8 C461.7 644.5 460.5 647.2 459.4 649.8 C458.3 652.4 456.9 656.0 456.6 658.4 C456.3 660.8 457.0 662.6 457.8 663.9 C458.6 665.1 460.3 665.9 461.7 665.9 C463.1 665.9 464.8 665.1 466.4 663.9 C468.0 662.6 469.8 660.6 471.1 658.4 C472.4 656.2 473.6 653.1 474.2 650.6 C474.8 648.1 474.9 645.4 474.6 643.6 C474.3 641.9 473.3 640.8 472.3 640.1 C471.3 639.4 470.2 639.0 468.8 639.5Z" fill="none" stroke="#000" stroke-width="2.6" stroke-linecap="round" stroke-linejoin="round"/>
<path d="M495.4 637.5 C493.9 643.5 488.1 667.7 486.6 673.8" fill="none" stroke="#000" stroke-width="2.6" stroke-linecap="round" stroke-linejoin="round"/>
<path d="M477.9 653.8 C483.2 654.3 504.4 656.4 509.8 656.9" fill="none" stroke="#000" stroke-width="2.6" stroke-linecap="round" stroke-linejoin="round"/>
<path d="M506.6 656.2 C506.3 660.2 505.1 676.0 504.8 680.0" fill="none" stroke="#000" stroke-width="2.6" stroke-linecap="round" stroke-linejoin="round"/>
<circle cx="511.0" cy="643.1" r="1.5" fill="#000"/>
<path d="M522.2 658.8 C521.2 659.6 517.9 661.2 516.0 663.8 C514.1 666.2 511.6 670.8 511.0 673.8 C510.4 676.7 511.0 679.6 512.2 681.2 C513.5 682.9 516.2 684.0 518.5 683.8 C520.8 683.5 524.8 680.6 526.0 680.0" fill="none" stroke="#000" stroke-width="2.6" stroke-linecap="round" stroke-linejoin="round"/>
<path d="M552.9 660.6 C550.9 661.2 544.1 662.8 541.0 664.4 C537.9 666.0 534.7 668.2 534.1 670.0 C533.5 671.8 535.3 673.3 537.2 675.0 C539.2 676.7 543.9 678.3 546.0 680.0 C548.1 681.7 549.8 683.4 549.8 685.0 C549.8 686.6 547.9 688.5 546.0 689.4 C544.1 690.3 541.0 690.8 538.5 690.6 C536.0 690.4 532.2 688.5 531.0 688.1" fill="none" stroke="#000" stroke-width="2.6" stroke-linecap="round" stroke-linejoin="round"/>
<path d="M790.9 699.4 C795.2 704.1 812.6 723.0 816.9 727.7" fill="none" stroke="#000" stroke-width="2.2" stroke-linecap="round" stroke-linejoin="round"/>
<path d="M790.9 699.4 C792.5 698.7 797.5 695.8 800.6 695.1 C803.7 694.4 807.3 694.3 809.7 695.1 C812.1 695.9 814.1 698.1 815.2 700.1 C816.3 702.1 816.6 704.9 816.2 707.2 C815.8 709.5 814.3 712.0 813.0 713.8 C811.7 715.5 809.2 717.0 808.4 717.6" fill="none" stroke="#000" stroke-width="2.2" stroke-linecap="round" stroke-linejoin="round"/>
<path d="M815.2 692.9 C817.7 695.4 827.5 705.1 829.9 707.6" fill="none" stroke="#000" stroke-width="2.2" stroke-linecap="round" stroke-linejoin="round"/>
<path d="M829.9 707.6 C829.1 705.7 826.0 699.8 825.3 696.2 C824.6 692.6 825.1 688.7 825.6 686.0 C826.1 683.3 827.9 680.9 828.4 679.9" fill="none" stroke="#000" stroke-width="2.2" stroke-linecap="round" stroke-linejoin="round"/>
<path d="M842.3 672.7 C839.9 672.7 837.0 674.9 835.8 676.6 C834.6 678.4 834.5 680.9 835.1 683.2 C835.7 685.5 837.6 688.3 839.5 690.5 C841.4 692.7 844.2 695.6 846.2 696.2 C848.2 696.8 850.1 695.7 851.4 694.2 C852.7 692.7 854.2 690.0 854.0 687.1 C853.8 684.2 852.1 679.0 850.1 676.6 C848.1 674.2 844.7 672.7 842.3 672.7Z" fill="none" stroke="#000" stroke-width="2.2" stroke-linecap="round" stroke-linejoin="round"/>
<path d="M839.0 653.2 C843.1 658.5 859.6 679.8 863.7 685.1" fill="none" stroke="#000" stroke-width="2.2" stroke-linecap="round" stroke-linejoin="round"/>
<path d="M863.7 685.1 C864.7 684.1 868.3 681.5 869.6 679.2 C870.9 677.0 871.8 673.7 871.6 671.4 C871.4 669.1 869.7 666.8 868.3 665.6 C866.9 664.4 864.8 663.8 863.1 664.3 C861.4 664.8 858.8 668.0 857.9 668.8" fill="none" stroke="#000" stroke-width="2.2" stroke-linecap="round" stroke-linejoin="round"/>
<path d="M866.3 656.5 C869.0 659.4 879.9 671.1 882.6 674.0" fill="none" stroke="#000" stroke-width="2.2" stroke-linecap="round" stroke-linejoin="round"/>
<circle cx="859.2" cy="644.8" r="1.5" fill="#000"/>
<path d="M881.3 643.5 C879.8 644.6 876.8 646.8 876.1 649.3 C875.5 651.8 876.4 655.8 877.4 658.4 C878.4 661.0 880.3 663.1 882.0 665.0 C883.7 666.9 886.0 669.1 887.8 669.5 C889.6 669.9 891.7 669.1 893.0 667.5 C894.3 665.9 895.8 663.0 895.6 659.7 C895.4 656.5 893.4 650.8 891.7 648.0 C890.0 645.2 886.9 643.5 885.2 642.8 C883.5 642.0 882.8 642.4 881.3 643.5Z" fill="none" stroke="#000" stroke-width="2.2" stroke-linecap="round" stroke-linejoin="round"/>
<path d="M893.3 623.9 C896.9 629.1 911.2 650.0 914.8 655.2" fill="none" stroke="#000" stroke-width="2.2" stroke-linecap="round" stroke-linejoin="round"/>
<path d="M896.2 646.4 C899.6 643.1 913.3 630.1 916.7 626.9" fill="none" stroke="#000" stroke-width="2.2" stroke-linecap="round" stroke-linejoin="round"/>
<path d="M917.7 627.9 C919.8 630.7 928.3 641.7 930.4 644.5" fill="none" stroke="#000" stroke-width="2.2" stroke-linecap="round" stroke-linejoin="round"/>
<circle cx="907.0" cy="616.1" r="1.5" fill="#000"/>
<path d="M926.3 617.8 C926.2 619.1 925.0 622.8 925.7 625.8 C926.4 628.8 928.8 633.2 930.6 635.7 C932.5 638.2 934.8 640.3 936.8 640.5 C938.8 640.7 941.2 638.8 942.6 637.0 C944.0 635.2 944.5 630.8 944.9 629.5" fill="none" stroke="#000" stroke-width="2.2" stroke-linecap="round" stroke-linejoin="round"/>
<path d="M945.6 597.2 C944.9 598.9 941.7 604.5 941.1 607.3 C940.5 610.1 941.0 612.7 942.1 614.2 C943.2 615.7 945.1 616.4 948.0 616.1 C950.9 615.8 957.0 612.4 959.7 612.2 C962.4 612.1 963.5 613.2 964.0 615.2 C964.5 617.2 964.3 621.5 962.6 623.9 C960.9 626.3 955.3 628.8 953.8 629.8" fill="none" stroke="#000" stroke-width="2.2" stroke-linecap="round" stroke-linejoin="round"/>
</svg>
</body></html>
